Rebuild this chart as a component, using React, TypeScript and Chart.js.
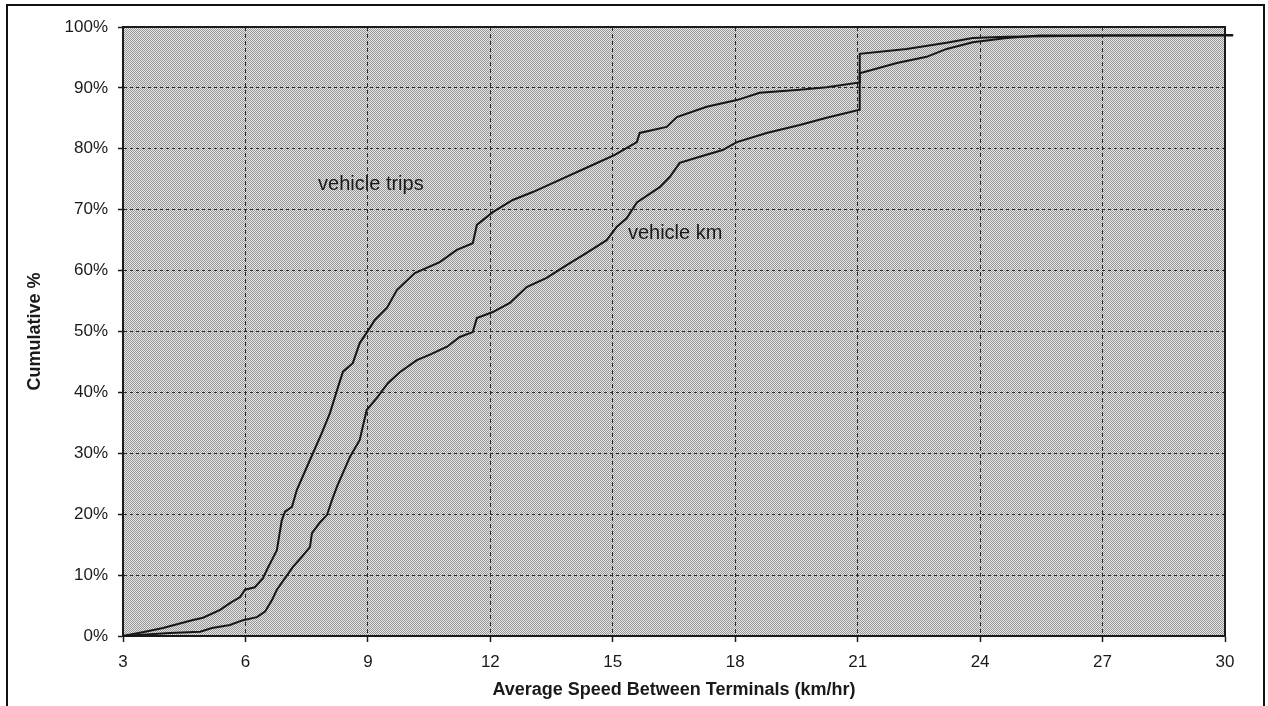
import React, { useEffect, useRef } from 'react';
import { Chart, registerables } from 'chart.js';

Chart.register(...registerables);

// Vehicle trips cumulative distribution (speed km/hr, cumulative %)
const tripsSpeed = [3, 3.54, 3.98, 4.69, 4.96, 5.38, 5.62, 5.87, 5.99, 6.23, 6.43, 6.55, 6.65, 6.77, 6.89, 6.97, 7.14, 7.26, 7.58, 7.87, 8.07, 8.27, 8.39, 8.63, 8.8, 8.98, 9.17, 9.47, 9.71, 10.15, 10.76, 11.18, 11.57, 11.67, 12.06, 12.55, 13.04, 13.7, 14.49, 15.05, 15.59, 15.66, 16.32, 16.57, 17.3, 18.04, 18.6, 19.58, 20.24, 21.05, 21.05, 22.2, 23.18, 23.82, 24.65, 27, 30.2];
const tripsCum = [0, 0.7, 1.3, 2.6, 3.0, 4.3, 5.4, 6.4, 7.6, 8.0, 9.5, 11.2, 12.5, 14.1, 19.0, 20.4, 21.2, 24.0, 28.9, 33.3, 36.6, 40.9, 43.4, 44.8, 48.1, 49.9, 51.9, 53.9, 56.8, 59.6, 61.4, 63.4, 64.5, 67.5, 69.6, 71.6, 72.9, 74.9, 77.3, 79.0, 81.1, 82.6, 83.6, 85.2, 86.9, 88.0, 89.2, 89.7, 90.1, 90.9, 95.6, 96.4, 97.4, 98.2, 98.4, 98.6, 98.7];

// Vehicle km cumulative distribution
const kmSpeed = [3, 4.15, 4.89, 5.18, 5.62, 5.94, 6.28, 6.48, 6.65, 6.77, 6.97, 7.16, 7.38, 7.58, 7.63, 7.82, 8.0, 8.12, 8.24, 8.56, 8.8, 8.97, 9.22, 9.49, 9.78, 10.2, 10.52, 10.94, 11.25, 11.57, 11.67, 12.06, 12.48, 12.89, 13.38, 13.87, 14.36, 14.85, 15.1, 15.34, 15.59, 16.15, 16.4, 16.64, 17.13, 17.69, 18.04, 18.77, 19.58, 20.24, 21.05, 21.05, 21.96, 22.69, 23.18, 23.82, 24.65, 25.46, 27, 30.2];
const kmCum = [0, 0.5, 0.7, 1.3, 1.8, 2.6, 3.1, 4.0, 5.9, 7.6, 9.5, 11.3, 13.0, 14.6, 16.9, 18.6, 19.9, 22.3, 24.5, 29.4, 32.2, 37.1, 39.1, 41.5, 43.3, 45.3, 46.2, 47.5, 49.1, 49.9, 52.2, 53.2, 54.7, 57.3, 58.8, 60.9, 62.9, 65.0, 67.2, 68.6, 71.2, 73.7, 75.4, 77.7, 78.7, 79.8, 81.1, 82.6, 83.9, 85.1, 86.4, 92.4, 94.1, 95.1, 96.4, 97.5, 98.2, 98.6, 98.6, 98.6];

const xTicks = [3, 6, 9, 12, 15, 18, 21, 24, 27, 30];
const yTicks = [0, 10, 20, 30, 40, 50, 60, 70, 80, 90, 100];

const curveLabels = ['vehicle trips', 'vehicle km'];
const curveLabelSpeed = [7.78, 15.37];
const curveLabelCum = [73.2, 65.2];

const xTitle = 'Average Speed Between Terminals (km/hr)';
const yTitle = 'Cumulative %';

const FONT = '"Liberation Sans", Arial, Helvetica, sans-serif';
const INK = '#1a1a1a';

export default function App() {
  const ref = useRef<HTMLCanvasElement>(null);

  useEffect(() => {
    const canvas = ref.current;
    if (!canvas) return;

    const pc = document.createElement('canvas');
    pc.width = 2;
    pc.height = 2;
    const pctx = pc.getContext('2d')!;
    pctx.fillStyle = '#e6e6e6';
    pctx.fillRect(0, 0, 2, 2);
    pctx.fillStyle = '#969696';
    pctx.fillRect(0, 0, 1, 1);
    pctx.fillRect(1, 1, 1, 1);

    const decor = {
      id: 'decor',
      beforeDraw(chart: any) {
        const { ctx, chartArea: a } = chart;
        ctx.save();
        const pat = ctx.createPattern(pc, 'repeat');
        ctx.fillStyle = pat || '#bebebe';
        ctx.fillRect(a.left, a.top, a.right - a.left, a.bottom - a.top);
        ctx.strokeStyle = '#111';
        ctx.lineWidth = 2;
        ctx.strokeRect(7, 5, 1257, 720);
        ctx.restore();
      },
      beforeDatasetsDraw(chart: any) {
        const { ctx, chartArea: a } = chart;
        ctx.save();
        ctx.strokeStyle = '#1a1a1a';
        ctx.lineWidth = 2;
        ctx.setLineDash([]);
        ctx.strokeRect(a.left, a.top, a.right - a.left, a.bottom - a.top);
        ctx.restore();
      },
      afterDatasetsDraw(chart: any) {
        const { ctx } = chart;
        const xs = chart.scales.x;
        const ys = chart.scales.y;
        ctx.save();
        ctx.fillStyle = INK;
        ctx.font = `20px ${FONT}`;
        ctx.textAlign = 'left';
        ctx.textBaseline = 'alphabetic';
        curveLabels.forEach((t, i) => {
          ctx.fillText(t, xs.getPixelForValue(curveLabelSpeed[i]), ys.getPixelForValue(curveLabelCum[i]));
        });
        ctx.restore();
      },
    };

    const lineStyle = {
      borderColor: '#161616',
      borderWidth: 2,
      pointRadius: 0,
      tension: 0,
      fill: false,
      clip: false as any,
    };

    const chart = new Chart(canvas, {
      type: 'line',
      data: {
        datasets: [
          { label: 'vehicle trips', data: tripsSpeed.map((x, i) => ({ x, y: tripsCum[i] })), ...lineStyle },
          { label: 'vehicle km', data: kmSpeed.map((x, i) => ({ x, y: kmCum[i] })), ...lineStyle },
        ],
      },
      options: {
        responsive: false,
        animation: false,
        maintainAspectRatio: false,
        layout: { padding: { left: 0, top: 27, right: 43, bottom: 0 } },
        plugins: {
          legend: { display: false },
          tooltip: { enabled: false },
          title: { display: false },
        },
        scales: {
          x: {
            type: 'linear',
            min: 3,
            max: 30,
            afterBuildTicks: (s: any) => {
              s.ticks = xTicks.map((v) => ({ value: v }));
            },
            afterFit: (s: any) => {
              s.height = 70;
            },
            ticks: {
              color: INK,
              font: { family: FONT, size: 17 },
              padding: 10,
              maxRotation: 0,
              autoSkip: false,
            },
            grid: {
              color: '#2a2a2a',
              lineWidth: 1,
              tickLength: 6,
              tickColor: '#1a1a1a',
              tickWidth: 1.5,
              tickBorderDash: [],
              borderDash: [4, 3],
            } as any,
            border: { display: true, color: '#1a1a1a', width: 2, dash: [4, 3] } as any,
            title: {
              display: true,
              text: xTitle,
              color: INK,
              font: { family: FONT, size: 18, weight: 'bold' },
              padding: { top: 0, bottom: 5 },
            },
          },
          y: {
            type: 'linear',
            min: 0,
            max: 100,
            afterBuildTicks: (s: any) => {
              s.ticks = yTicks.map((v) => ({ value: v }));
            },
            afterFit: (s: any) => {
              s.width = 123;
            },
            ticks: {
              color: INK,
              font: { family: FONT, size: 17 },
              padding: 10,
              callback: (v: any) => `${v}%`,
            },
            grid: {
              color: '#2a2a2a',
              lineWidth: 1,
              tickLength: 5,
              tickColor: '#1a1a1a',
              tickWidth: 1.5,
              tickBorderDash: [],
              borderDash: [3, 3],
            } as any,
            border: { display: true, color: '#1a1a1a', width: 2, dash: [3, 3] } as any,
            title: {
              display: true,
              text: yTitle,
              color: INK,
              font: { family: FONT, size: 18, weight: 'bold' },
              padding: { top: 24, bottom: 0 },
            },
          },
        },
      },
      plugins: [decor],
    });

    return () => chart.destroy();
  }, []);

  return (
    <div style={{ position: 'fixed', left: 0, top: 0, width: 1268, height: 706, background: '#fff' }}>
      <canvas ref={ref} width={1268} height={706} style={{ display: 'block', width: 1268, height: 706 }} />
    </div>
  );
}
